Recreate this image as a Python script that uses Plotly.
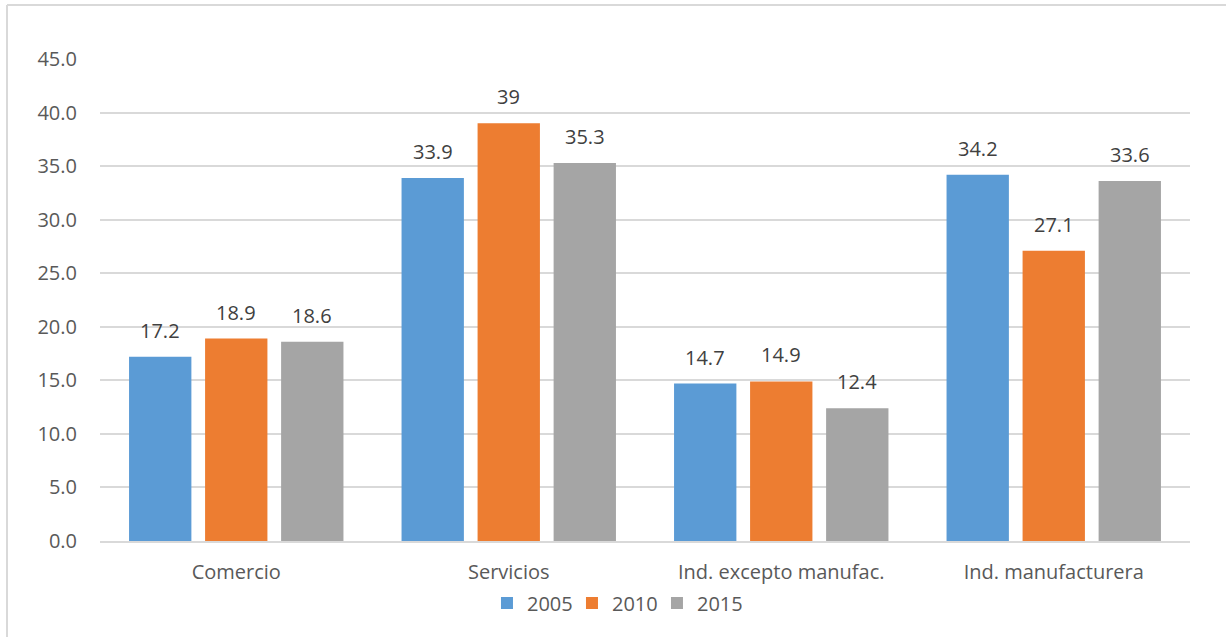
import plotly.graph_objects as go

categories = ["Comercio", "Servicios", "Ind. excepto manufac.", "Ind. manufacturera"]
series_names = ["2005", "2010", "2015"]
values_2005 = [17.2, 33.9, 14.7, 34.2]
values_2010 = [18.9, 39, 14.9, 27.1]
values_2015 = [18.6, 35.3, 12.4, 33.6]
label_2005 = ["17.2", "33.9", "14.7", "34.2"]
label_2010 = ["18.9", "39", "14.9", "27.1"]
label_2015 = ["18.6", "35.3", "12.4", "33.6"]
y_ticks = [0, 5, 10, 15, 20, 25, 30, 35, 40, 45]

colors = ["#5B9BD5", "#ED7D31", "#A5A5A5"]
series = [values_2005, values_2010, values_2015]
labels = [label_2005, label_2010, label_2015]

FONT = "Open Sans"
fig = go.Figure()
for name, vals, col in zip(series_names, series, colors):
    fig.add_trace(go.Bar(
        x=categories, y=vals, name=name,
        marker=dict(color=col, line=dict(width=0)),
        hoverinfo="x+y",
    ))

# data labels as annotations above each bar
slot = 1090 / 4 * (1 - 0.163) / 3
for i, (vals, labs) in enumerate(zip(series, labels)):
    for c, v, t in zip(categories, vals, labs):
        fig.add_annotation(
            x=c, y=v, text=t, showarrow=False,
            xshift=(i - 1) * slot, yshift=11, yanchor="bottom",
            font=dict(family=FONT, size=20, color="#404040"),
        )

# chart frame (left & top edges visible)
L, R, T, B = 100, 36, 59, 96
W, H = 1226 - L - R, 637 - T - B
def px(x):
    return (x - L) / W
def py(y):
    return (637 - B - y) / H
fig.add_shape(type="line", xref="paper", yref="paper",
              x0=px(7), x1=px(7), y0=py(637), y1=py(5),
              line=dict(color="#D9D9D9", width=2))
fig.add_shape(type="line", xref="paper", yref="paper",
              x0=px(7), x1=px(1226), y0=py(5), y1=py(5),
              line=dict(color="#D9D9D9", width=2))

fig.update_layout(
    width=1226, height=637,
    margin=dict(l=L, r=R, t=T, b=B),
    paper_bgcolor="white", plot_bgcolor="white",
    barmode="group", bargap=0.163, bargroupgap=0.18,
    font=dict(family=FONT, size=20, color="#595959"),
    showlegend=True,
    legend=dict(orientation="h", x=0.472, xanchor="center", y=-0.088, yanchor="top",
                font=dict(family=FONT, size=20, color="#595959"),
                itemwidth=30, entrywidth=40, tracegroupgap=0, traceorder="normal"),
    xaxis=dict(showgrid=False, showline=True, linecolor="#D9D9D9", linewidth=2,
               ticks="", ticklabelstandoff=12,
               tickfont=dict(family=FONT, size=20, color="#595959")),
    yaxis=dict(range=[0, 45], tickvals=y_ticks, tickformat=".1f",
               showgrid=True, gridcolor="#D9D9D9", gridwidth=2,
               zeroline=False, showline=False, ticks="", ticklabelstandoff=22,
               tickfont=dict(family=FONT, size=20, color="#595959")),
)

fig.write_html("out.html")
